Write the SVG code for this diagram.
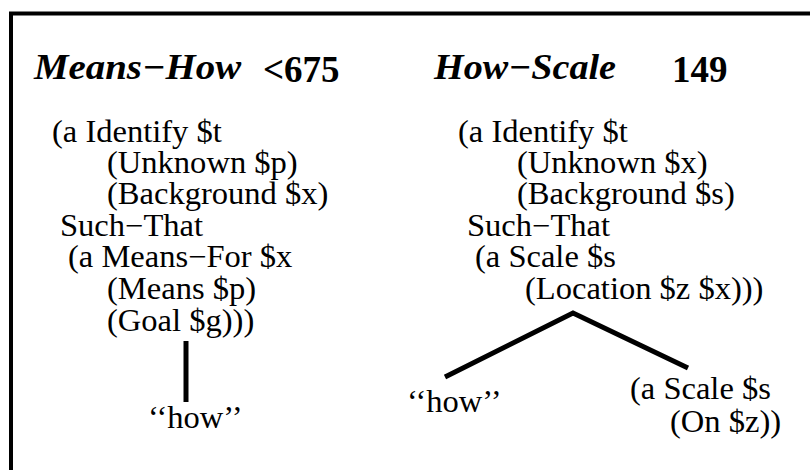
<svg xmlns="http://www.w3.org/2000/svg" width="810" height="470" viewBox="0 0 810 470">
<style>
.t{font-family:"Liberation Serif","Times New Roman",serif;fill:#000}
.h{font-size:36px;font-weight:bold;font-style:italic}
.n{font-size:37px;font-weight:bold}
.b{font-size:31px}
.c{stroke:#000;stroke-width:5;fill:none}
</style>
<rect x="0" y="0" width="810" height="470" fill="#fff"/>
<rect x="11" y="13.5" width="820" height="480" fill="none" stroke="#000" stroke-width="4"/>
<g id="means-how">
<text class="t h" transform="matrix(1.08 0 0 1 34 79)">Means−How</text>
<text class="t n" x="263" y="82">&lt;675</text>
</g>
<g id="means-how-frame">
<text class="t b" transform="matrix(1.05 0 0 1 52 142)">(a Identify $t</text>
<text class="t b" transform="matrix(1.05 0 0 1 107 173)">(Unknown $p)</text>
<text class="t b" transform="matrix(1.05 0 0 1 107 204)">(Background $x)</text>
<text class="t b" transform="matrix(1.05 0 0 1 60 236)">Such−That</text>
<text class="t b" transform="matrix(1.05 0 0 1 68 267)">(a Means−For $x</text>
<text class="t b" transform="matrix(1.05 0 0 1 107 299)">(Means $p)</text>
<text class="t b" transform="matrix(1.05 0 0 1 107 331)">(Goal $g)))</text>
</g>
<g id="means-how-word">
<text class="t b" transform="matrix(1.05 0 0 1 148 428)">‘‘how’’</text>
</g>
<g id="how-scale">
<text class="t h" transform="matrix(1.06 0 0 1 434 79)">How−Scale</text>
<text class="t n" x="672" y="82">149</text>
</g>
<g id="how-scale-frame">
<text class="t b" transform="matrix(1.05 0 0 1 458 142)">(a Identify $t</text>
<text class="t b" transform="matrix(1.05 0 0 1 517 173)">(Unknown $x)</text>
<text class="t b" transform="matrix(1.05 0 0 1 517 204)">(Background $s)</text>
<text class="t b" transform="matrix(1.05 0 0 1 467 236)">Such−That</text>
<text class="t b" transform="matrix(1.05 0 0 1 475 267)">(a Scale $s</text>
<text class="t b" transform="matrix(1.05 0 0 1 525 299)">(Location $z $x)))</text>
</g>
<g id="how-scale-word">
<text class="t b" transform="matrix(1.05 0 0 1 407 412)">‘‘how’’</text>
</g>
<g id="how-scale-sub">
<text class="t b" transform="matrix(1.05 0 0 1 630 399)">(a Scale $s</text>
<text class="t b" transform="matrix(1.05 0 0 1 670 432)">(On $z))</text>
</g>
<g id="connectors">
<line class="c" x1="186" y1="341" x2="186" y2="402"/>
<polyline class="c" points="445,377 573,313 688,368"/>
</g>
</svg>
